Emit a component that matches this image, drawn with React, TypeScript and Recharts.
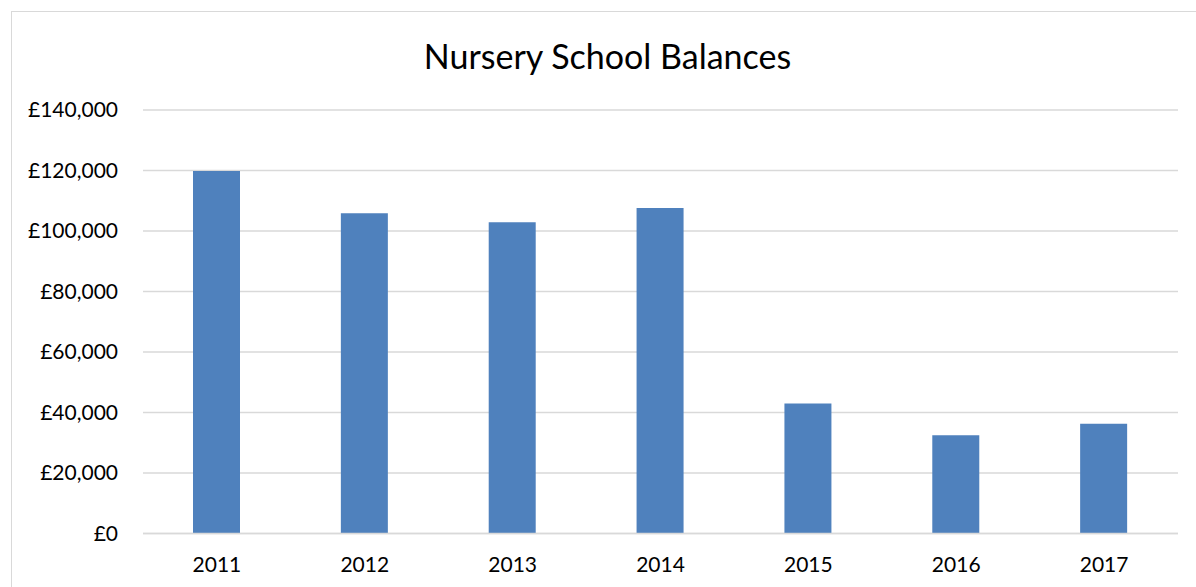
import React from "react";
import { BarChart, Bar, XAxis, YAxis, CartesianGrid } from "recharts";

const categories = ["2011", "2012", "2013", "2014", "2015", "2016", "2017"];
const balances = [119800, 105900, 102900, 107600, 43000, 32500, 36300];
const yTicks = [0, 20000, 40000, 60000, 80000, 100000, 120000, 140000];

const data = categories.map((year, i) => ({ year, balance: balances[i] }));

const fmt = (v: number) => "£" + v.toLocaleString("en-GB");

const FONT = "Lato, 'Open Sans', sans-serif";

export default function App() {
  return (
    <div style={{ position: "absolute", left: 0, top: 0, width: 1196, height: 587, overflow: "hidden", background: "#fff" }}>
      <div
        style={{
          position: "absolute",
          left: 11,
          top: 11,
          width: 1220,
          height: 620,
          border: "1px solid #D9D9D9",
          boxSizing: "border-box",
        }}
      />
      <div
        style={{
          position: "absolute",
          left: 0,
          width: 1215,
          top: 34,
          textAlign: "center",
          fontFamily: FONT,
          fontSize: 34,
          color: "#000",
          lineHeight: "44px",
        }}
      >
        Nursery School Balances
      </div>
      <div style={{ position: "absolute", left: 0, top: 0 }}>
        <BarChart
          width={1196}
          height={587}
          data={data}
          margin={{ top: 110, right: 18, bottom: 0, left: 0 }}
          barCategoryGap={0}
        >
          <CartesianGrid vertical={false} stroke="#D9D9D9" strokeWidth={1.3} />
          <XAxis
            dataKey="year"
            height={53.5}
            tickLine={false}
            tickSize={0}
            tickMargin={24}
            axisLine={{ stroke: "#D9D9D9", strokeWidth: 1.3 }}
            tick={{ fill: "#000", fontSize: 21, fontFamily: FONT }}
          />
          <YAxis
            width={143}
            domain={[0, 140000]}
            ticks={yTicks}
            tickFormatter={fmt}
            axisLine={false}
            tickLine={false}
            tickSize={0}
            tickMargin={25}
            tick={{ fill: "#000", fontSize: 21, fontFamily: FONT }}
            interval={0}
          />
          <Bar dataKey="balance" fill="#4F81BD" barSize={47} isAnimationActive={false} />
        </BarChart>
      </div>
    </div>
  );
}
